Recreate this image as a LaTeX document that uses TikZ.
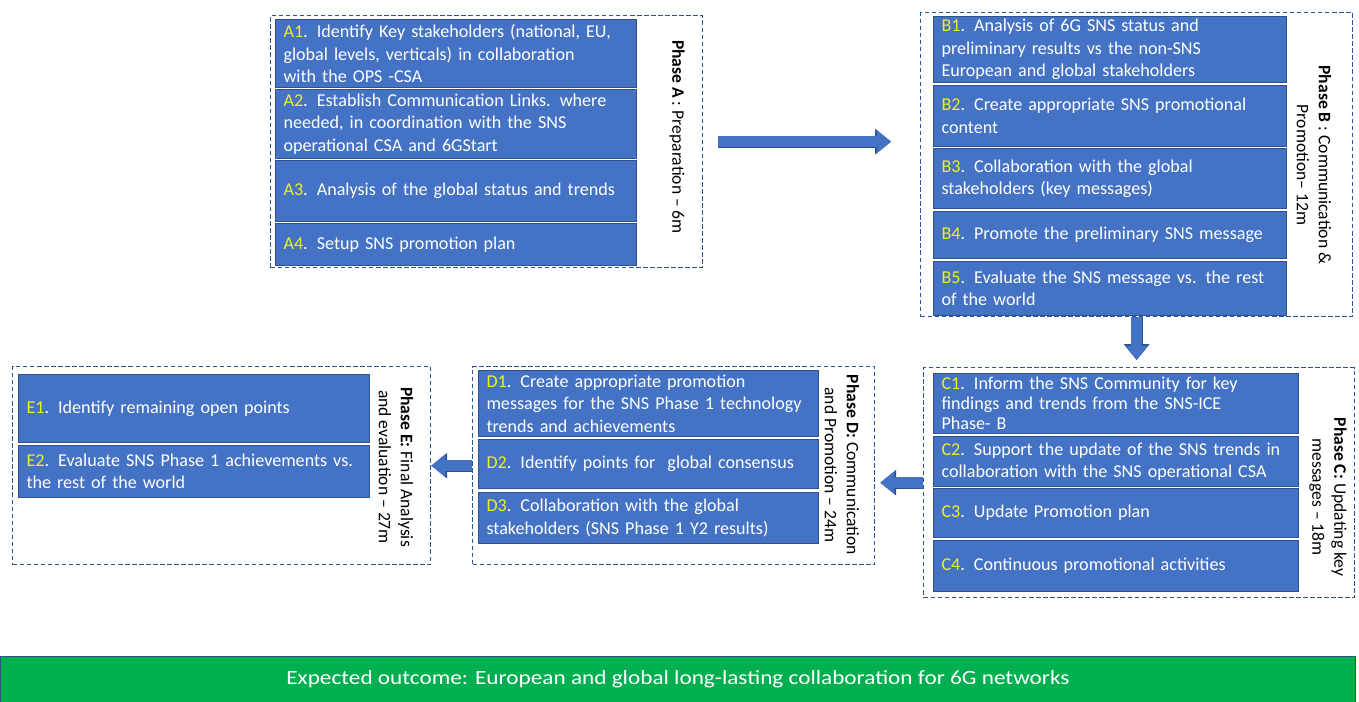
\documentclass[tikz,border=0pt]{standalone}
\usepackage{fontspec}
\setmainfont{Carlito}
\usetikzlibrary{arrows.meta}

\definecolor{taskblue}{HTML}{4472C4}
\definecolor{taskline}{HTML}{2F528F}
\definecolor{framecol}{HTML}{2F5597}
\definecolor{tagyellow}{HTML}{F0F020}
\definecolor{outcomegreen}{HTML}{00B050}

\newcommand{\itemtag}[1]{\textcolor{tagyellow}{#1}}

\tikzset{
    phase/.style={draw=framecol, line width=0.8pt, dash pattern=on 2.5pt off 1.5pt, rectangle, anchor=north west, inner sep=0pt},
    task/.style={draw=taskline, line width=0.6pt, fill=taskblue, text=white, rectangle, anchor=north west, align=left, inner xsep=0.16cm, inner ysep=1pt, font=\fontsize{10.3}{12.8}\selectfont},
    phaselabel/.style={rotate=-90, align=center, font=\fontsize{10}{12.5}\selectfont},
    blockarrow/.style={line width=6.2pt, draw=taskblue, -{Triangle[width=12.5pt, length=8pt]},
        preaction={draw=taskline, line width=7pt, -{Triangle[width=14pt, length=9pt]}}},
    outcome/.style={draw=taskline, line width=0.5pt, fill=outcomegreen, text=white, rectangle, font=\fontsize{11.5}{14}\selectfont}
}

\begin{document}
\begin{tikzpicture}[x=0.02cm, y=-0.02cm]
    \useasboundingbox (0,0) rectangle (1359,702);

    % phase frames
    \node (phaseA) [phase, minimum width=8.64cm, minimum height=5.04cm] at (270, 15) {};
    \node (phaseB) [phase, minimum width=8.64cm, minimum height=6.08cm] at (920, 12) {};
    \node (phaseC) [phase, minimum width=8.62cm, minimum height=4.6cm] at (923, 367) {};
    \node (phaseD) [phase, minimum width=8.04cm, minimum height=3.96cm] at (472, 366) {};
    \node (phaseE) [phase, minimum width=8.36cm, minimum height=3.96cm] at (12, 366) {};

    % phase A
    \node (a1) [task, text width=6.9cm, minimum height=1.36cm] at (275, 19) {\itemtag{A1}. Identify Key stakeholders (national, EU,\\ global levels, verticals) in collaboration\\ with the OPS -CSA};
    \node (a2) [task, text width=6.9cm, minimum height=1.38cm] at (275, 89) {\itemtag{A2}. Establish Communication Links. where\\ needed, in coordination with the SNS\\ operational CSA and 6GStart};
    \node (a3) [task, text width=6.9cm, minimum height=1.22cm] at (275, 160) {\itemtag{A3}. Analysis of the global status and trends};
    \node (a4) [task, text width=6.9cm, minimum height=0.84cm] at (275, 223) {\itemtag{A4}. Setup SNS promotion plan};
    \node (labelA) [phaselabel] at (677, 137) {\textbf{Phase A} : Preparation -- 6m};

    % phase B
    \node (b1) [task, text width=6.74cm, minimum height=1.32cm] at (933, 16) {\itemtag{B1}. Analysis of 6G SNS status and\\ preliminary results vs the non-SNS\\ European and global stakeholders};
    \node (b2) [task, text width=6.74cm, minimum height=1.22cm] at (933, 85) {\itemtag{B2}. Create appropriate SNS promotional\\ content};
    \node (b3) [task, text width=6.74cm, minimum height=1.2cm] at (933, 148) {\itemtag{B3}. Collaboration with the global\\ stakeholders (key messages)};
    \node (b4) [task, text width=6.74cm, minimum height=0.94cm] at (933, 211) {\itemtag{B4}. Promote the preliminary SNS message};
    \node (b5) [task, text width=6.74cm, minimum height=1.08cm] at (933, 261) {\itemtag{B5}. Evaluate the SNS message vs. the rest\\ of the world};
    \node (labelB) [phaselabel] at (1314, 165) {\textbf{Phase B} : Communication \&\\ Promotion-- 12m};

    % phase C
    \node (c1) [task, text width=6.98cm, minimum height=1.2cm, font=\fontsize{10.3}{11.5}\selectfont] at (933, 373) {\itemtag{C1}. Inform the SNS Community for key\\ findings and trends from the SNS-ICE\\ Phase- B};
    \node (c2) [task, text width=6.98cm, minimum height=1.0cm] at (933, 436) {\itemtag{C2}. Support the update of the SNS trends in\\ collaboration with the SNS operational CSA};
    \node (c3) [task, text width=6.98cm, minimum height=0.98cm] at (933, 488) {\itemtag{C3}. Update Promotion plan};
    \node (c4) [task, text width=6.98cm, minimum height=1.02cm] at (933, 540) {\itemtag{C4}. Continuous promotional activities};
    \node (labelC) [phaselabel] at (1328, 497) {\textbf{Phase C:} Updating key\\ messages -- 18m};

    % phase D
    \node (d1) [task, text width=6.48cm, minimum height=1.32cm] at (478, 370) {\itemtag{D1}. Create appropriate promotion\\ messages for the SNS Phase 1 technology\\ trends and achievements};
    \node (d2) [task, text width=6.48cm, minimum height=0.98cm] at (478, 439) {\itemtag{D2}. Identify points for\ \ global consensus};
    \node (d3) [task, text width=6.48cm, minimum height=1.02cm] at (478, 492) {\itemtag{D3}. Collaboration with the global\\ stakeholders (SNS Phase 1 Y2 results)};
    \node (labelD) [phaselabel] at (842, 465) {\textbf{Phase D:} Communication\\ and Promotion -- 24m};

    % phase E
    \node (e1) [task, text width=6.7cm, minimum height=1.36cm] at (18, 374) {\itemtag{E1}. Identify remaining open points};
    \node (e2) [task, text width=6.7cm, minimum height=1.04cm] at (18, 445) {\itemtag{E2}. Evaluate SNS Phase 1 achievements vs.\\ the rest of the world};
    \node (labelE) [phaselabel] at (396, 467) {\textbf{Phase E:} Final Analysis\\ and evaluation -- 27m};

    % flow between phases
    \draw[blockarrow, shorten <=0.3cm, shorten >=0.58cm] (phaseA.east) -- (phaseA.east -| phaseB.west);
    \draw[blockarrow, shorten >=0.14cm] (phaseB.south) -- (phaseB.south |- phaseC.north);
    \draw[blockarrow, shorten >=0.1cm] (phaseC.west) -- (phaseC.west -| phaseD.east);
    \draw[blockarrow] (phaseD.west) -- (phaseE.east);

    \node (result) [outcome, minimum width=27.12cm, minimum height=0.92cm] at (678, 679) {\scalebox{1.15}[1]{Expected outcome: European and global long-lasting collaboration for 6G networks}};
\end{tikzpicture}
\end{document}
